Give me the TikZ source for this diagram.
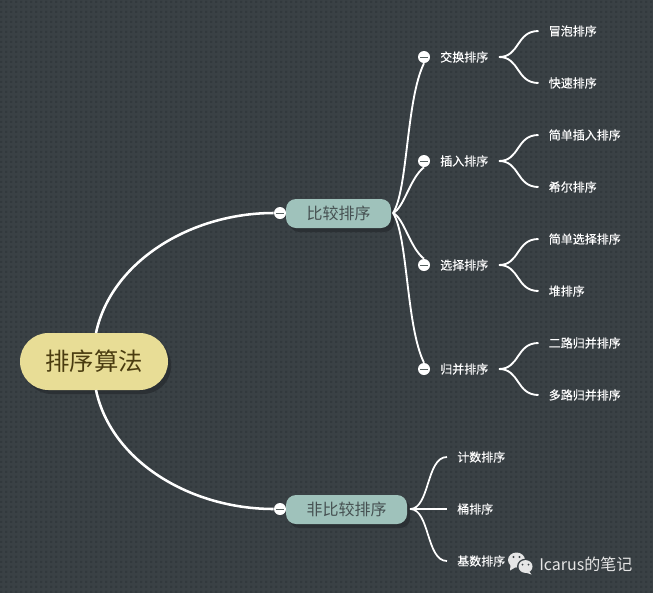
\documentclass[tikz,border=0pt]{standalone}
\usepackage{fontspec}
\setmainfont{Noto Sans CJK SC}
\newfontfamily\leaffont[FakeBold=0.35]{Noto Sans CJK SC}
\usetikzlibrary{patterns,shadows,shapes.misc}
\definecolor{bgc}{HTML}{3A4145}
\definecolor{dotc}{HTML}{32393D}
\definecolor{rootc}{HTML}{E8DD96}
\definecolor{roott}{HTML}{4A3C10}
\definecolor{subc}{HTML}{9FC2BB}
\definecolor{subt}{HTML}{465152}
\definecolor{shc}{HTML}{2B3034}
\definecolor{iconc}{HTML}{E6E6E6}
\definecolor{barc}{HTML}{55605F}
\pgfdeclarepatternformonly{bgdots}{\pgfpointorigin}{\pgfpoint{3.75pt}{3.75pt}}{\pgfpoint{3.75pt}{3.75pt}}{
  \pgfpathrectangle{\pgfpoint{1.0pt}{1.0pt}}{\pgfpoint{1.7pt}{1.7pt}}\pgfusepath{fill}}
\tikzset{
  x=0.75pt,y=-0.75pt,
  pill/.style={rounded rectangle,inner sep=0pt,
    general shadow={shadow xshift=2.4pt,shadow yshift=-3pt,fill=shc}},
  rootnode/.style={pill,rounded rectangle arc length=180,fill=rootc,text=roott,minimum width=111pt,minimum height=42.75pt,font=\fontsize{18.3}{20}\selectfont},
  mainnode/.style={rectangle,rounded corners=7.5pt,inner sep=0pt,
    general shadow={shadow xshift=2.4pt,shadow yshift=-3pt,fill=shc},
    fill=subc,text=subt,minimum height=21.75pt,font=\fontsize{12}{14}\selectfont},
  leafnode/.style={text=white,inner sep=0pt,font=\leaffont\fontsize{9}{10}\selectfont,anchor=west},
  toggle/.style={circle,fill=white,draw=none,minimum size=9pt,inner sep=0pt,
    path picture={\draw[line width=0.6pt,barc] ([xshift=-3pt]path picture bounding box.center) -- ([xshift=3pt]path picture bounding box.center);}},
  thick line/.style={white,line width=1.9pt},
  mid line/.style={white,line width=1.4pt},
  thin line/.style={white,line width=1.3pt},
}
\begin{document}
\begin{tikzpicture}
\useasboundingbox (0,0) rectangle (653,593);
\fill[bgc] (0,0) rectangle (653,593);
\fill[pattern=bgdots,pattern color=dotc] (0,0) rectangle (653,593);

% main nodes
\node[rootnode] (root) at (94,361.5) {排序算法};
\node[mainnode,minimum width=78.75pt] (cmp) at (338.5,213.5) {比较排序};
\node[mainnode,minimum width=90.75pt] (ncmp) at (346.5,509.5) {非比较排序};
\node[toggle] (tcmp) at (280,213) {};
\node[toggle] (tncmp) at (280,509) {};

% second level
\foreach \n/\y/\t in {a/57/交换排序,b/161/插入排序,c/265/选择排序,d/369/归并排序}{
  \node[toggle] (t\n) at (424,\y) {};
  \node[leafnode] (l\n) at (440,\y) {\t};
  \coordinate (s\n) at (499,\y);
}
\coordinate (hubA) at (393,213);
\coordinate (hubB) at (410,509);

% leaves
\node[leafnode] (a1) at (548.5,31) {冒泡排序};
\node[leafnode] (a2) at (548.5,83) {快速排序};
\node[leafnode] (b1) at (548.5,135) {简单插入排序};
\node[leafnode] (b2) at (548.5,187) {希尔排序};
\node[leafnode] (c1) at (548.5,239) {简单选择排序};
\node[leafnode] (c2) at (548.5,291) {堆排序};
\node[leafnode] (d1) at (548.5,343) {二路归并排序};
\node[leafnode] (d2) at (548.5,395) {多路归并排序};
\node[leafnode] (e1) at (457,457) {计数排序};
\node[leafnode] (e2) at (457,509) {桶排序};
\node[leafnode] (e3) at (457,561) {基数排序};

% root connectors
\draw[thick line] (96,333) .. controls (111,262) and (190,213) .. (tcmp.west);
\draw[thick line] (96,390) .. controls (111,461) and (190,509) .. (tncmp.west);

% first-level fan
\draw[mid line] (hubA) .. controls (408,190) and (406,100) .. (ta.south);
\draw[mid line] (hubA) .. controls (404,208) and (410,178) .. (tb.south);
\draw[mid line] (hubA) .. controls (404,218) and (410,248) .. (tc.north);
\draw[mid line] (hubA) .. controls (408,236) and (406,326) .. (td.north);

% brace connectors
\foreach \n/\p/\q/\ya/\yb in {a/a1/a2/31/83,b/b1/b2/135/187,c/c1/c2/239/291,d/d1/d2/343/395}{
  \coordinate (ea) at ([xshift=-7.5pt]\p.west);
  \coordinate (eb) at ([xshift=-7.5pt]\q.west);
  \draw[mid line] (s\n) .. controls (520,{(\ya+\yb)/2}) and (516,\ya) .. (ea);
  \draw[mid line] (s\n) .. controls (520,{(\ya+\yb)/2}) and (516,\yb) .. (eb);
}
% third-level fan
\coordinate (ee1) at ([xshift=-7.5pt]e1.west);
\coordinate (ee2) at ([xshift=-7.5pt]e2.west);
\coordinate (ee3) at ([xshift=-7.5pt]e3.west);
\draw[thin line] (hubB) .. controls (430,509) and (426,457) .. (ee1);
\draw[white,line width=1.7pt] (hubB) -- (ee2);
\draw[thin line] (hubB) .. controls (430,509) and (426,561) .. (ee3);

% watermark
\fill[iconc] (516.5,560) ellipse [x radius=8.5,y radius=7.5];
\fill[iconc] (510.5,565) -- (510,570.5) -- (516,567) -- cycle;
\fill[bgc] (525.5,566.5) ellipse [x radius=8.5,y radius=7.8];
\fill[iconc] (525.5,566.5) ellipse [x radius=7,y radius=6.4];
\fill[iconc] (529,571) -- (531.5,574.5) -- (524,572) -- cycle;
\fill[bgc] (513.5,557) circle [radius=1.2];
\fill[bgc] (519.5,557) circle [radius=1.2];
\fill[bgc] (522.5,564.5) circle [radius=1];
\fill[bgc] (528.5,564.5) circle [radius=1];
\node[anchor=west,inner sep=0pt,text=iconc,font=\fontsize{12}{14}\selectfont] (mark) at (539,564) {Icarus的笔记};
\end{tikzpicture}
\end{document}
